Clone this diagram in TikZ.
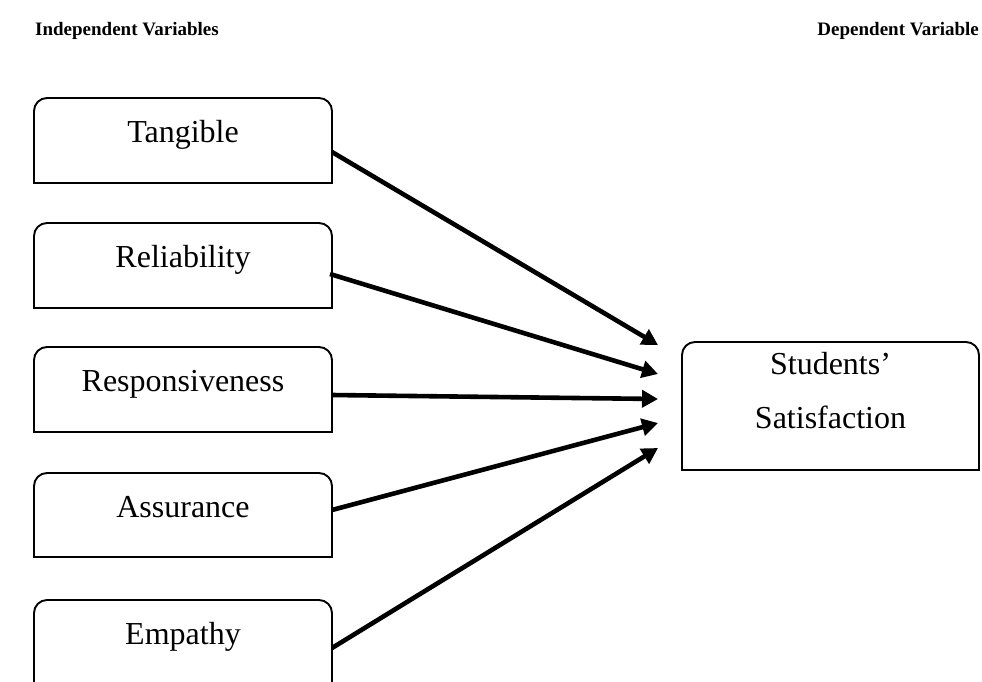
\documentclass[tikz,border=0pt]{standalone}
\usepackage{fontspec}
\setmainfont{Liberation Serif}
\usetikzlibrary{arrows.meta,calc}
\begin{document}
\begin{tikzpicture}[x=1pt,y=-1pt,
  vbox/.style={inner sep=0pt, outer sep=0pt, anchor=north west, minimum width=298pt,
    font=\fontsize{32}{38}\selectfont, text height=44pt, text depth=41pt},
  boxline/.style={line width=1.9pt},
  conn/.style={line width=4.6pt, -{Triangle[length=16pt,width=17pt]}},
  head/.style={font=\bfseries\fontsize{19}{22}\selectfont, inner sep=0pt}]
\clip (0,0) rectangle (982,681);
\node[head, anchor=base west] (hi) at (35,35) {Independent Variables};
\node[head, anchor=base east] (hd) at (979,35) {Dependent Variable};
\node[vbox] (t) at (34,98) {Tangible};
\node[vbox] (r) at (34,223) {Reliability};
\node[vbox] (s) at (34,347) {Responsiveness};
\node[vbox, text depth=40pt] (a) at (34,473) {Assurance};
\node[vbox] (e) at (34,600) {Empathy};
\node[vbox, minimum width=297pt, text height=32pt, text depth=96pt, font=\fontsize{32}{54}\selectfont] (sat) at (682,342)
  {\begin{tabular}[t]{@{}c@{}}Students’\\Satisfaction\end{tabular}};
\foreach \n in {t,r,s,a,e,sat}{
  \draw[boxline, rounded corners=13pt] (\n.south west) -- (\n.north west) -- (\n.north east) -- (\n.south east);
  \draw[boxline, line cap=rect] (\n.south west) -- (\n.south east);
}
\draw[conn] ($(t.north east)+(0,54)$) -- ($(sat.north west)+(-24,3)$);
\draw[conn] ($(r.north east)+(-2,51)$) -- ($(sat.north west)+(-24,32)$);
\draw[conn] ($(s.north east)+(0,48)$) -- ($(sat.north west)+(-24,57)$);
\draw[conn] ($(a.north east)+(0,37)$) -- ($(sat.north west)+(-24,81)$);
\draw[conn] ($(e.north east)+(0,48)$) -- ($(sat.north west)+(-24,106)$);
\end{tikzpicture}
\end{document}
